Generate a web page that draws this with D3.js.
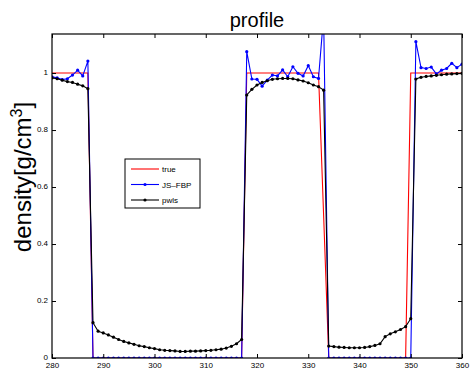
<!DOCTYPE html>
<html>
<head>
<meta charset="utf-8">
<script src="https://cdn.jsdelivr.net/npm/d3@7"></script>
<style>
  body { margin: 0; background: #fff; }
  svg { display: block; font-family: "Liberation Sans", Arial, sans-serif; }
</style>
</head>
<body>
<div id="root"></div>
<script>
// sample positions (pixel index along the profile)
const xs = d3.range(280, 361);

const trueVals = [
  1, 1, 1, 1, 1, 1, 1, 1,
  0, 0, 0, 0, 0, 0, 0, 0, 0, 0, 0, 0, 0, 0, 0, 0, 0, 0, 0, 0, 0, 0, 0, 0, 0, 0, 0, 0, 0, 0,
  1, 1, 1, 1, 1, 1, 1, 1, 1, 1, 1, 1, 1, 1, 1, 0.5,
  0, 0, 0, 0, 0, 0, 0, 0, 0, 0, 0, 0, 0, 0, 0, 0,
  1, 1, 1, 1, 1, 1, 1, 1, 1, 1, 1
];

const jsfbpVals = [
  0.987, 0.983, 0.977, 0.98, 0.993, 1.01, 0.99, 1.042,
  0, 0, 0, 0, 0, 0, 0, 0, 0, 0, 0, 0, 0, 0, 0, 0, 0, 0, 0, 0, 0, 0, 0, 0, 0, 0, 0, 0, 0, 0,
  1.075, 0.979, 0.978, 0.954, 0.975, 0.993, 0.99, 1.011, 0.987, 1.022, 0.999, 0.99, 1.026, 0.987, 0.981, 1.2,
  0, 0, 0, 0, 0, 0, 0, 0, 0, 0, 0, 0, 0, 0, 0, 0, 0,
  1.11, 1.019, 1.016, 1.021, 0.997, 1.01, 1.016, 1.034, 1.019, 1.031
];

const pwlsVals = [
  0.983, 0.98, 0.975, 0.97, 0.967, 0.961, 0.955, 0.945,
  0.124, 0.094, 0.088, 0.081, 0.073, 0.065, 0.058, 0.053, 0.048, 0.043,
  0.04, 0.036, 0.033, 0.029, 0.027, 0.026, 0.025, 0.023, 0.023, 0.024,
  0.024, 0.025, 0.026, 0.027, 0.029, 0.031, 0.035, 0.041, 0.05, 0.065,
  0.923, 0.943, 0.958, 0.967, 0.973, 0.978, 0.98, 0.981, 0.981, 0.98, 0.976, 0.972, 0.966, 0.958, 0.952, 0.94,
  0.042, 0.04, 0.038, 0.037, 0.036, 0.036, 0.036, 0.037, 0.04, 0.044, 0.05, 0.075, 0.085, 0.092, 0.1, 0.11, 0.138,
  0.979, 0.985, 0.988, 0.99, 0.992, 0.994, 0.996, 0.997, 0.998, 0.999
];

const xTicks = [280, 290, 300, 310, 320, 330, 340, 350, 360];
const yTicks = [0, 0.2, 0.4, 0.6, 0.8, 1];

const series = [
  { name: "true", color: "#ff0000", values: trueVals, marker: false },
  { name: "JS\u2013FBP", color: "#0000ff", values: jsfbpVals, marker: true },
  { name: "pwls", color: "#000000", values: pwlsVals, marker: true }
];

const width = 472, height = 371;
const margin = { top: 34, right: 10, bottom: 13, left: 52 };

const x = d3.scaleLinear().domain([280, 360]).range([margin.left, width - margin.right]);
const y = d3.scaleLinear().domain([0, 1.137]).range([height - margin.bottom, margin.top]);

const svg = d3.create("svg").attr("width", width).attr("height", height);

svg.append("defs").append("clipPath").attr("id", "clip")
  .append("rect")
  .attr("x", margin.left).attr("y", margin.top)
  .attr("width", width - margin.left - margin.right)
  .attr("height", height - margin.top - margin.bottom);

const line = d3.line().x((d, i) => x(xs[i])).y((d) => y(d));

const plot = svg.append("g").attr("clip-path", "url(#clip)");

series.forEach((s) => {
  plot.append("path")
    .attr("d", line(s.values))
    .attr("fill", "none")
    .attr("stroke", s.color)
    .attr("stroke-width", 1.1);
  if (s.marker) {
    plot.append("g")
      .attr("fill", s.color)
      .selectAll("circle")
      .data(s.values)
      .join("circle")
      .attr("cx", (d, i) => x(xs[i]))
      .attr("cy", (d) => y(d))
      .attr("r", 1.6);
  }
});

// axes, MATLAB style: inward ticks on all four sides
const tickLen = 4;
const axisStyle = (g) => {
  g.select(".domain").remove();
  g.selectAll(".tick line").attr("stroke", "#000");
  g.selectAll(".tick text").attr("font-size", 8).attr("fill", "#000")
    .attr("font-family", "Liberation Sans, Arial, sans-serif");
};

svg.append("g")
  .attr("transform", `translate(0,${height - margin.bottom})`)
  .call(d3.axisBottom(x).tickValues(xTicks).tickSize(-tickLen).tickPadding(4).tickFormat(d3.format("d")))
  .call(axisStyle);

svg.append("g")
  .attr("transform", `translate(0,${margin.top})`)
  .call(d3.axisTop(x).tickValues(xTicks).tickSize(-tickLen).tickFormat(""))
  .call(axisStyle);

svg.append("g")
  .attr("transform", `translate(${margin.left},0)`)
  .call(d3.axisLeft(y).tickValues(yTicks).tickSize(-tickLen).tickPadding(4).tickFormat((d) => d3.format("")(+d.toFixed(1))))
  .call(axisStyle)
  .call((g) => g.selectAll(".tick text").attr("dy", "0.2em"));

svg.append("g")
  .attr("transform", `translate(${width - margin.right},0)`)
  .call(d3.axisRight(y).tickValues(yTicks).tickSize(-tickLen).tickFormat(""))
  .call(axisStyle);

svg.append("rect")
  .attr("x", margin.left).attr("y", margin.top)
  .attr("width", width - margin.left - margin.right)
  .attr("height", height - margin.top - margin.bottom)
  .attr("fill", "none")
  .attr("stroke", "#000")
  .attr("stroke-width", 1.2);

// title
svg.append("text")
  .attr("x", (margin.left + width - margin.right) / 2)
  .attr("y", 27)
  .attr("text-anchor", "middle")
  .attr("font-size", 20)
  .text("profile");

// y label
const ylab = svg.append("text")
  .attr("transform", "translate(31,177) rotate(-90)")
  .attr("text-anchor", "middle")
  .attr("font-size", 24);
ylab.append("tspan").text("density[g/cm");
ylab.append("tspan").attr("font-size", 16).attr("dy", -9).text("3");
ylab.append("tspan").attr("dy", 9).text("]");

// legend
const legend = svg.append("g").attr("transform", "translate(125,159)");
legend.append("rect")
  .attr("width", 75).attr("height", 49)
  .attr("fill", "#fff").attr("stroke", "#000").attr("stroke-width", 1);

series.forEach((s, i) => {
  const g = legend.append("g").attr("transform", `translate(0,${10 + i * 15.5})`);
  g.append("line")
    .attr("x1", 6).attr("x2", 34).attr("y1", 0).attr("y2", 0)
    .attr("stroke", s.color).attr("stroke-width", 1.1);
  if (s.marker) {
    g.append("circle").attr("cx", 20).attr("cy", 0).attr("r", 1.6).attr("fill", s.color);
  }
  g.append("text")
    .attr("x", 37).attr("y", 3)
    .attr("font-size", 8)
    .text(s.name);
});

d3.select("#root").append(() => svg.node());
</script>
</body>
</html>
